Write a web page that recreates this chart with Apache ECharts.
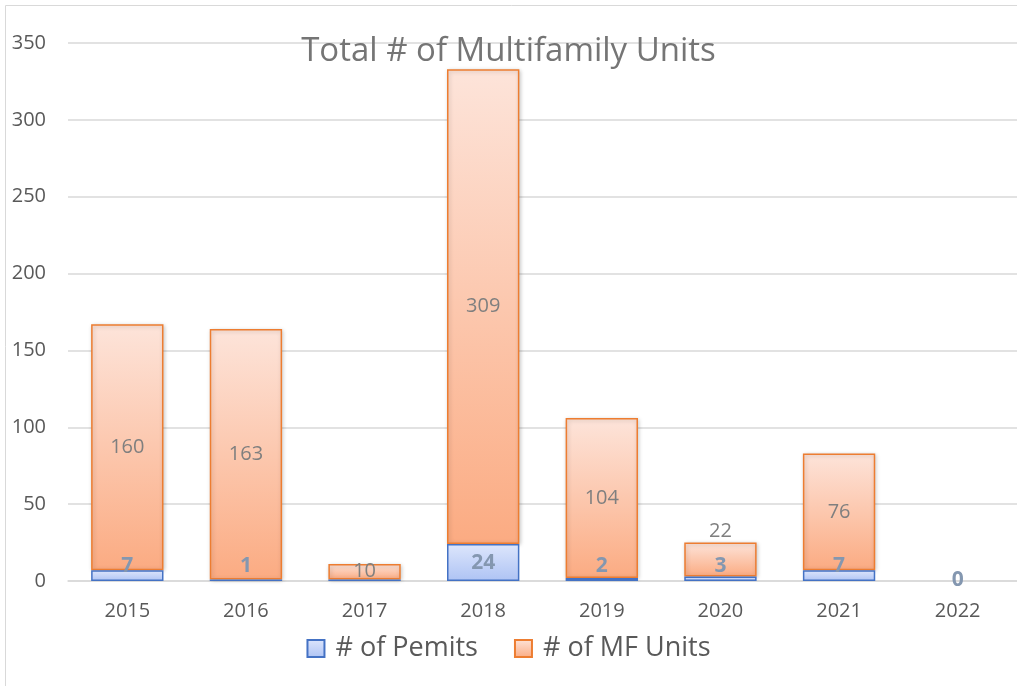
<!DOCTYPE html>
<html>
<head>
<meta charset="utf-8">
<script src="https://cdn.jsdelivr.net/npm/echarts@6/dist/echarts.min.js"></script>
<style>
html, body { margin: 0; padding: 0; background: #fff; }
#chart { width: 1017px; height: 686px; }
</style>
</head>
<body>
<div id="chart"></div>
<script>
// data
var years = ['2015', '2016', '2017', '2018', '2019', '2020', '2021', '2022'];
var permits = [7, 1, 1, 24, 2, 3, 7, 0];
var mfUnits = [160, 163, 10, 309, 104, 22, 76, 0];
var yTicks = [0, 50, 100, 150, 200, 250, 300, 350];

var myChart = echarts.init(document.getElementById('chart'));

var permitData = permits.map(function (v, i) {
    // 2017 permit label is hidden behind the "10"
    if (i == 2) return { value: v, label: { show: false } };
    if (v == 0) return { value: v, itemStyle: { borderWidth: 0 }, label: { position: 'top', distance: -10 } };
    if (v > 15) return { value: v, label: { position: 'inside' } };
    return v;
});
var unitData = mfUnits.map(function (v, i) {
    if (i == 5) return { value: v, label: { position: 'top', distance: 1 } };
    if (v == 0) return { value: v, label: { show: false }, itemStyle: { borderWidth: 0 } };
    return v;
});

var option = {
    animation: false,
    textStyle: { fontFamily: 'Open Sans' },
    title: {
        text: 'Total # of Multifamily Units',
        left: 'center',
        top: 30,
        textStyle: { fontSize: 33, fontWeight: 'normal', color: '#757575', fontFamily: 'Open Sans' }
    },
    graphic: [{
        type: 'rect',
        shape: { x: 5.5, y: 5.5, width: 1030, height: 700 },
        style: { fill: 'none', stroke: '#d9d9d9', lineWidth: 1 },
        silent: true
    }],
    legend: {
        bottom: 19,
        left: 'center',
        icon: 'rect',
        itemWidth: 17,
        itemHeight: 17,
        itemGap: 36,
        textStyle: { fontSize: 27, color: '#595959', padding: [0, 0, 0, 6] },
        data: ['# of Pemits', '# of MF Units']
    },
    grid: { left: 68, right: -4, top: 43, bottom: 105 },
    xAxis: {
        type: 'category',
        data: years,
        axisLine: { lineStyle: { color: '#d9d9d9', width: 1.5 } },
        axisTick: { show: false },
        axisLabel: { fontSize: 20, color: '#595959', margin: 20 }
    },
    yAxis: {
        type: 'value',
        min: yTicks[0],
        max: yTicks[yTicks.length - 1],
        interval: 50,
        axisLine: { show: false },
        axisTick: { show: false },
        axisLabel: { fontSize: 20, color: '#595959', margin: 22 },
        splitLine: { lineStyle: { color: '#d9d9d9', width: 1.5 } }
    },
    series: [
        {
            name: '# of Pemits',
            type: 'bar',
            stack: 'total',
            barWidth: '61%',
            data: permitData,
            itemStyle: {
                color: new echarts.graphic.LinearGradient(0, 0, 0, 1, [
                    { offset: 0, color: '#dde6fc' },
                    { offset: 1, color: '#aec3f4' }
                ]),
                borderColor: '#4472c4',
                borderWidth: 1.5
            },
            label: {
                show: true,
                position: 'insideBottom',
                distance: 4,
                fontSize: 21,
                fontWeight: 'bold',
                color: '#8497b0'
            },
            z: 3
        },
        {
            name: '# of MF Units',
            type: 'bar',
            stack: 'total',
            data: unitData,
            itemStyle: {
                color: new echarts.graphic.LinearGradient(0, 0, 0, 1, [
                    { offset: 0, color: '#fde4da' },
                    { offset: 1, color: '#fbab82' }
                ]),
                borderColor: '#ed7d31',
                borderWidth: 1.5,
                shadowColor: 'rgba(0,0,0,0.2)',
                shadowBlur: 4,
                shadowOffsetX: 1,
                shadowOffsetY: 1
            },
            label: {
                show: true,
                position: 'inside',
                fontSize: 20,
                color: '#7f7f7f'
            },
            z: 2
        }
    ]
};

myChart.setOption(option);
</script>
</body>
</html>
